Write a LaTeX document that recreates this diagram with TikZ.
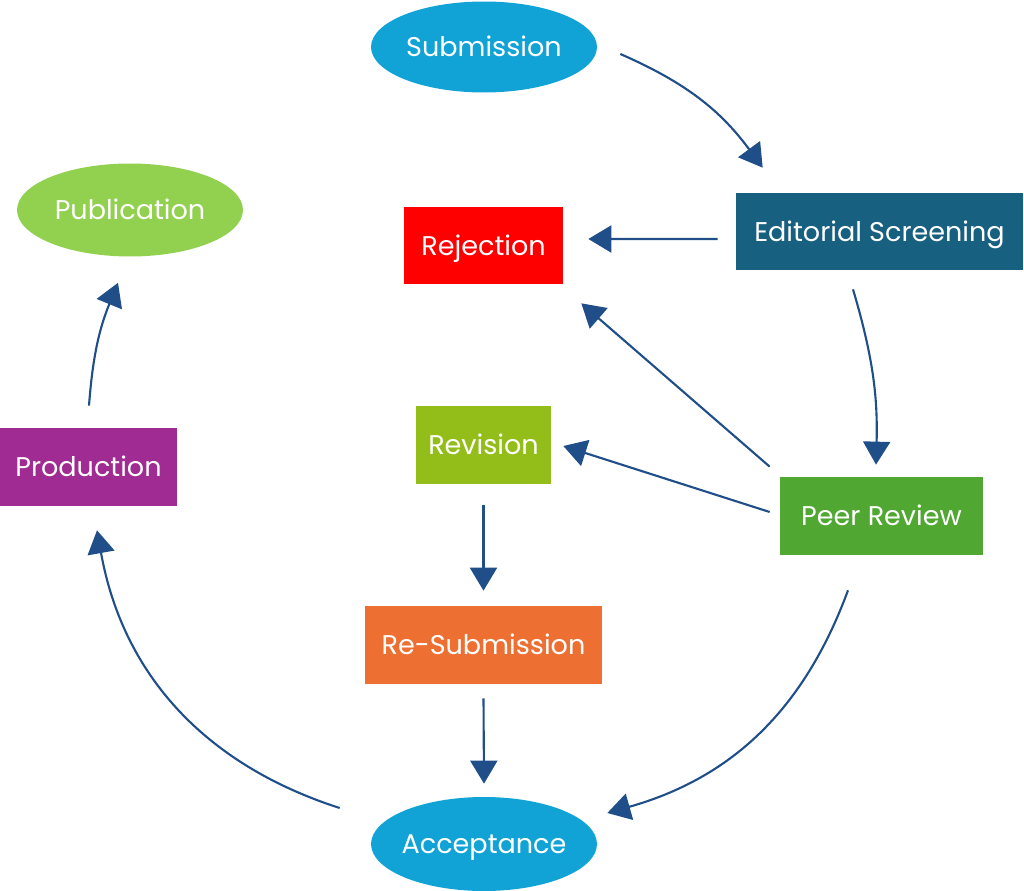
\documentclass[tikz,border=0pt]{standalone}
\usepackage{fontspec}
\setmainfont{Poppins}
\usetikzlibrary{arrows.meta,calc,shapes.geometric}

\definecolor{cyanblue}{HTML}{11A3D6}
\definecolor{lightgreen}{HTML}{92D050}
\definecolor{petrol}{HTML}{17607F}
\definecolor{lime}{HTML}{93BE1A}
\definecolor{leafgreen}{HTML}{50A833}
\definecolor{plum}{HTML}{A02B93}
\definecolor{tangerine}{HTML}{ED7032}
\definecolor{navy}{HTML}{1F4E89}

\tikzset{
	oval/.style={ellipse, inner xsep=-8pt, inner ysep=0pt, text=white, text height=1.1em, text depth=0pt, font=\fontsize{15.4}{18}\selectfont},
	card/.style={rectangle, inner sep=0pt, text=white, text height=1.1em, text depth=0pt, font=\fontsize{15.4}{18}\selectfont},
	flow/.style={draw=navy, line width=1.2pt, -{Triangle[length=0.46cm, width=0.54cm]}}
}

\begin{document}
\begin{tikzpicture}[x=0.02cm, y=-0.02cm]
			\useasboundingbox (0,0) rectangle (1024,891);
			
			% DRAW NODES
			\node[oval, fill=cyanblue, minimum width=4.52cm, minimum height=1.82cm] (sub) at (484, 47) {Submission};
			\node[oval, fill=lightgreen, minimum width=4.52cm, minimum height=1.86cm] (pub) at (130, 210) {Publication};
			\node[oval, fill=cyanblue, minimum width=4.52cm, minimum height=1.88cm] (acc) at (484, 844) {Acceptance};
			\node[card, fill=red, minimum width=3.18cm, minimum height=1.54cm] (rej) at (483.5, 245.5) {Rejection};
			\node[card, fill=petrol, minimum width=5.74cm, minimum height=1.54cm] (edit) at (879.5, 231.5) {Editorial Screening};
			\node[card, fill=lime, minimum width=2.7cm, minimum height=1.56cm] (rev) at (483.5, 445) {Revision};
			\node[card, fill=leafgreen, minimum width=4.06cm, minimum height=1.56cm] (peer) at (881.5, 516) {Peer Review};
			\node[card, fill=plum, minimum width=3.54cm, minimum height=1.56cm] (prod) at (88.5, 467) {Production};
			\node[card, fill=tangerine, minimum width=4.74cm, minimum height=1.56cm] (resub) at (483.5, 645) {Re-Submission};
			
			% DRAW ARROWS
			\draw[flow] ($(sub.east)+(23,7)$) to[bend left=15] ($(edit.north west)+(27,-25)$);
			\draw[flow] ($(edit.west)+(-18,7.5)$) -- ($(rej.east)+(25,-6.5)$);
			\draw[flow] ($(edit.south)+(-26.5,19)$) to[bend left=9] ($(peer.north)+(-5.5,-12)$);
			\draw[flow] ($(peer.north west)+(-10,-10)$) -- ($(rej.south east)+(18,19)$);
			\draw[flow] ($(peer.west)+(-10,-4)$) -- ($(rev.east)+(12,1)$);
			\draw[flow] ($(rev.south)+(0,21)$) -- ($(resub.north)+(0,-15)$);
			\draw[flow] ($(resub.south)+(0,14)$) -- ($(acc.north)+(0,-13)$);
			\draw[flow] ($(peer.south)+(-33.5,35)$) to[bend left=27] ($(acc.east)+(10,-31)$);
			\draw[flow] ($(acc.west)+(-31,-36)$) to[bend left=31] ($(prod.south)+(8.5,24)$);
			\draw[flow] ($(prod.north)+(0.5,-22)$) to[bend left=9] ($(pub.south)+(-12,26)$);
		\end{tikzpicture}
\end{document}
